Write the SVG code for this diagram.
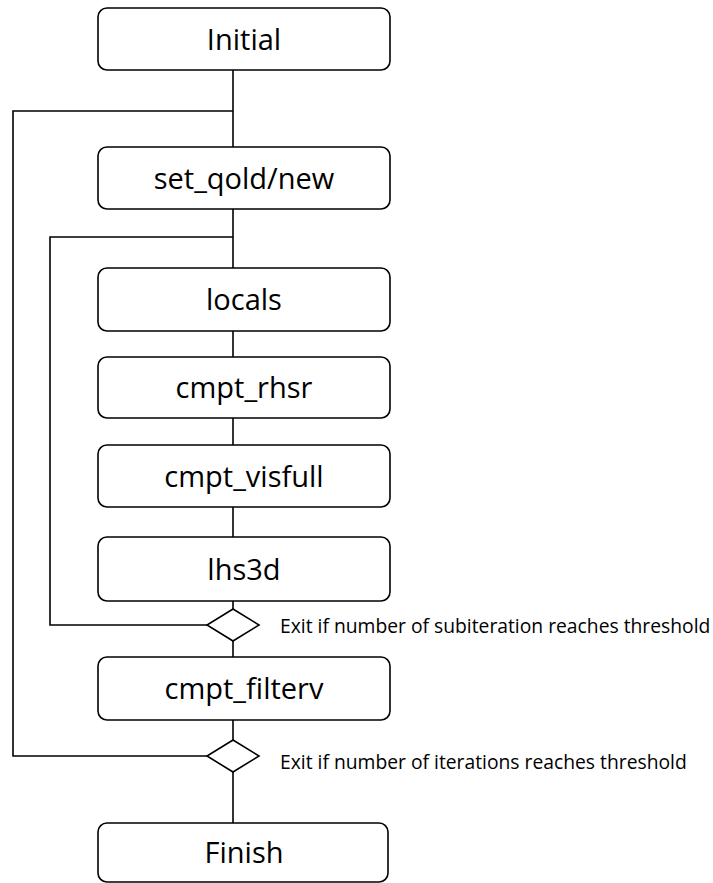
<svg xmlns="http://www.w3.org/2000/svg" width="713" height="883" viewBox="0 0 713 883">
<style>
.box{fill:#fff;stroke:#000;stroke-width:1.6}
.lbl{font-family:"Open Sans","Liberation Sans",sans-serif;font-size:29px;fill:#000;text-anchor:middle}
.note{font-family:"Open Sans","Liberation Sans",sans-serif;font-size:19.3px;fill:#000}
.ln{fill:none;stroke:#000;stroke-width:1.6}
.dia{fill:#fff;stroke:#000;stroke-width:1.6}
</style>
<rect width="713" height="883" fill="#fff"/>
<g id="connectors">
<path class="ln" d="M233 70V147"/>
<path class="ln" d="M233 209V268"/>
<path class="ln" d="M233 331V357"/>
<path class="ln" d="M233 418V445"/>
<path class="ln" d="M233 507V537"/>
<path class="ln" d="M233 601V609"/>
<path class="ln" d="M233 641V657"/>
<path class="ln" d="M233 720V740"/>
<path class="ln" d="M233 772V823"/>
<path class="ln" d="M207 625H50V237H233"/>
<path class="ln" d="M207 756H13V111H233"/>
</g>
<g id="initial"><rect class="box" x="98" y="8" width="292" height="62" rx="9"/><text class="lbl" x="244" y="50">Initial</text></g>
<g id="set_qold_new"><rect class="box" x="98" y="147" width="292" height="62" rx="9"/><text class="lbl" x="244" y="189">set_qold/new</text></g>
<g id="locals"><rect class="box" x="98" y="268" width="292" height="63" rx="9"/><text class="lbl" x="244" y="310">locals</text></g>
<g id="cmpt_rhsr"><rect class="box" x="98" y="357" width="292" height="61" rx="9"/><text class="lbl" x="244" y="398">cmpt_rhsr</text></g>
<g id="cmpt_visfull"><rect class="box" x="98" y="445" width="292" height="62" rx="9"/><text class="lbl" x="244" y="487">cmpt_visfull</text></g>
<g id="lhs3d"><rect class="box" x="98" y="537" width="292" height="64" rx="9"/><text class="lbl" x="244" y="580">lhs3d</text></g>
<g id="sub_check"><path class="dia" d="M233 609L259 625L233 641L207 625Z"/><text class="note" x="280" y="633">Exit if number of subiteration reaches threshold</text></g>
<g id="cmpt_filterv"><rect class="box" x="98" y="657" width="292" height="63" rx="9"/><text class="lbl" x="244" y="699">cmpt_filterv</text></g>
<g id="iter_check"><path class="dia" d="M233 740L259 756L233 772L207 756Z"/><text class="note" x="280" y="769">Exit if number of iterations reaches threshold</text></g>
<g id="finish"><rect class="box" x="98" y="823" width="290" height="59" rx="9"/><text class="lbl" x="244" y="863">Finish</text></g>
</svg>
